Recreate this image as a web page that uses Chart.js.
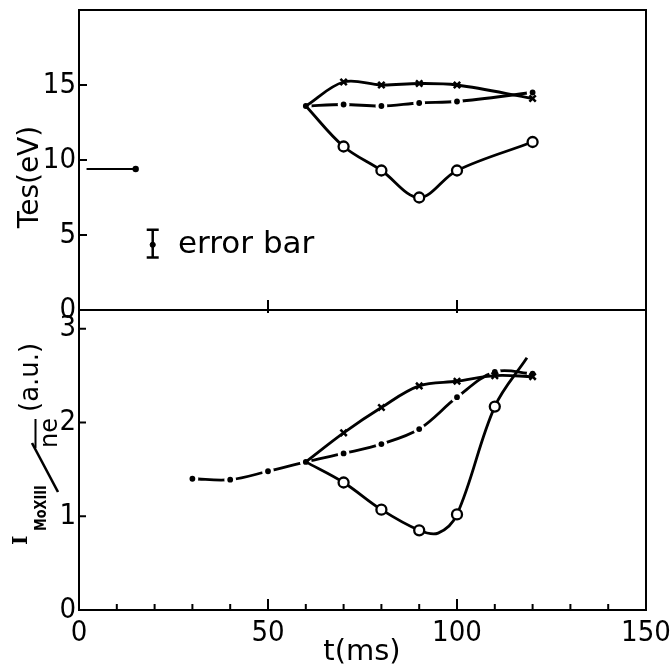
<!DOCTYPE html>
<html>
<head>
<meta charset="utf-8">
<script src="https://cdn.jsdelivr.net/npm/chart.js@4.4.1/dist/chart.umd.min.js"></script>
<style>
  html, body { margin: 0; padding: 0; background: #fff; }
  #wrap { position: relative; width: 671px; height: 665px; }
  #wrap canvas { position: absolute; left: 0; top: 0; }
</style>
</head>
<body>
<div id="wrap">
  <canvas id="tesChart" width="671" height="665"></canvas>
  <canvas id="moChart" width="671" height="665"></canvas>
</div>
<script>
// Time axis (ms)
const timeTicks = [0, 50, 100, 150];
const timeMinor = [10, 20, 30, 40, 60, 70, 80, 90, 110, 120, 130, 140];

// Upper panel: T_es (eV)
const tesTicks = [0, 5, 10, 15];
const tesCrossT = [60, 70, 80, 90, 100, 120];
const tesCross = [13.6, 15.2, 15.0, 15.1, 15.0, 14.1];
const tesDotT = [60, 70, 80, 90, 100, 120];
const tesDot = [13.6, 13.7, 13.6, 13.8, 13.9, 14.5];
const tesRingT = [60, 70, 80, 90, 100, 120];
const tesRing = [13.6, 10.9, 9.3, 7.5, 9.3, 11.2];
const tesBeforeT = [2, 15];
const tesBefore = [9.4, 9.4];
const errBarT = [19.5, 19.5, 19.5];
const errBar = [3.5, 4.35, 5.35];

// Lower panel: I(MoXIII) / ne (a.u.)
const moTicks = [0, 1, 2, 3];
const moCrossT = [60, 70, 80, 90, 100, 110, 120];
const moCross = [1.58, 1.89, 2.16, 2.39, 2.44, 2.50, 2.49];
const moDotT = [30, 40, 50, 60, 70, 80, 90, 100, 110, 120];
const moDot = [1.40, 1.39, 1.48, 1.58, 1.67, 1.77, 1.93, 2.27, 2.54, 2.52];
const moRingT = [60, 70, 80, 90, 95, 100, 110, 118.5];
const moRing = [1.58, 1.36, 1.07, 0.85, 0.82, 1.02, 2.17, 2.69];
const moRingMarked = [false, true, true, true, false, true, true, false];

const NUM_FONT = "'Liberation Sans Narrow', 'DejaVu Sans Condensed', 'Liberation Sans', sans-serif";
const TXT_FONT = "'DejaVu Sans', sans-serif";

function pts(xs, ys) {
    return xs.map((x, i) => ({ x: x, y: ys[i] }));
}

// Series styles
function crossSet(xs, ys) {
    return {
        data: pts(xs, ys),
        borderColor: '#000', borderWidth: 2.8, tension: 0.35,
        pointStyle: 'crossRot', pointBorderColor: '#000', pointBorderWidth: 2.5,
        pointRadius: c => c.dataIndex === 0 ? 0 : 4.5
    };
}
function dotSet(xs, ys) {
    // white ring round each dot leaves a small gap in the line
    return {
        data: pts(xs, ys),
        borderColor: '#000', borderWidth: 2.8, tension: 0.35,
        pointStyle: 'circle', pointBackgroundColor: '#000', pointBorderColor: '#fff',
        pointBorderWidth: 3, pointRadius: 4.4
    };
}
function ringSet(xs, ys, marked) {
    return {
        data: pts(xs, ys),
        borderColor: '#000', borderWidth: 2.8, tension: 0.35,
        pointStyle: 'circle', pointBackgroundColor: '#fff', pointBorderColor: '#000',
        pointBorderWidth: 2.3,
        pointRadius: c => (marked ? marked[c.dataIndex] : c.dataIndex > 0) ? 5 : 0
    };
}

function xScale(show) {
    return {
        type: 'linear', min: 0, max: 150, display: show,
        grid: { display: false, drawTicks: false },
        border: { display: false },
        afterBuildTicks: s => { s.ticks = timeTicks.map(v => ({ value: v })); },
        afterFit: s => {
            if (show) s.height = 55;
            s.paddingLeft = 0;
            s.paddingRight = 0;
        },
        ticks: { color: '#000', padding: 6, maxRotation: 0, font: { family: NUM_FONT, size: 29 } }
    };
}
function yScale(min, max, ticks) {
    return {
        type: 'linear', min: min, max: max,
        grid: { display: false, drawTicks: false },
        border: { display: false },
        afterBuildTicks: s => { s.ticks = ticks.map(v => ({ value: v })); },
        afterFit: s => {
            s.width = 79;
            s.paddingTop = 0;
            s.paddingBottom = 0;
        },
        ticks: { color: '#000', padding: 3, font: { family: NUM_FONT, size: 29 } }
    };
}

// Frame box plus inward tick marks
function framePlugin(xMarks, yMarks) {
    return {
        id: 'frame',
        afterDraw(chart) {
            const { ctx, chartArea: a, scales } = chart;
            ctx.save();
            ctx.strokeStyle = '#000';
            ctx.lineWidth = 2;
            ctx.strokeRect(a.left, a.top, a.right - a.left, a.bottom - a.top);
            xMarks.forEach(([v, up, down]) => {
                const px = scales.x.getPixelForValue(v);
                ctx.beginPath();
                ctx.moveTo(px, a.bottom + down);
                ctx.lineTo(px, a.bottom - up);
                ctx.stroke();
            });
            yMarks.forEach(([v, len]) => {
                const py = scales.y.getPixelForValue(v);
                ctx.beginPath();
                ctx.moveTo(a.left, py);
                ctx.lineTo(a.left + len, py);
                ctx.stroke();
            });
            ctx.restore();
        }
    };
}

const commonOptions = {
    responsive: false,
    animation: false,
    events: [],
    plugins: { legend: { display: false }, tooltip: { enabled: false } }
};

// Upper chart
new Chart(document.getElementById('tesChart'), {
    type: 'line',
    data: {
        datasets: [
            crossSet(tesCrossT, tesCross),
            ringSet(tesRingT, tesRing, null),
            dotSet(tesDotT, tesDot),
            {
                data: pts(tesBeforeT, tesBefore),
                borderColor: '#000', borderWidth: 2, tension: 0,
                pointBackgroundColor: '#000', pointBorderColor: '#000',
                pointRadius: [0, 2.2]
            },
            {
                data: pts(errBarT, errBar),
                borderColor: '#000', borderWidth: 2.5, tension: 0,
                pointStyle: ['line', 'circle', 'line'],
                pointBackgroundColor: '#000', pointBorderColor: '#000',
                pointBorderWidth: [2.5, 1, 2.5], pointRadius: [6, 2.6, 6]
            }
        ]
    },
    options: Object.assign({}, commonOptions, {
        layout: { padding: { left: 0, right: 25, top: 10, bottom: 355 } },
        scales: { x: xScale(false), y: yScale(0, 20, tesTicks) }
    }),
    plugins: [
        framePlugin([[50, 10, 3], [100, 10, 3]], [[5, 8], [10, 8], [15, 8]]),
        {
            id: 'tesText',
            afterDraw(chart) {
                const ctx = chart.ctx;
                ctx.save();
                ctx.fillStyle = '#000';
                ctx.font = '31px ' + TXT_FONT;
                ctx.textAlign = 'left';
                ctx.textBaseline = 'alphabetic';
                ctx.fillText('error bar', 178, 253);
                ctx.translate(38, 177);
                ctx.rotate(-Math.PI / 2);
                ctx.textAlign = 'center';
                ctx.font = '28px ' + TXT_FONT;
                ctx.fillText('Tes(eV)', 0, 0);
                ctx.restore();
            }
        }
    ]
});

// Lower chart
new Chart(document.getElementById('moChart'), {
    type: 'line',
    data: {
        datasets: [
            crossSet(moCrossT, moCross),
            ringSet(moRingT, moRing, moRingMarked),
            dotSet(moDotT, moDot)
        ]
    },
    options: Object.assign({}, commonOptions, {
        layout: { padding: { left: 0, right: 25, top: 310, bottom: 0 } },
        scales: { x: xScale(true), y: yScale(0, 3.2, moTicks) }
    }),
    plugins: [
        framePlugin(
            timeMinor.map(v => [v, 6, 0]).concat([[50, 11, 0], [100, 11, 0]]),
            [[1, 7], [2, 7], [3, 7]]
        ),
        {
            id: 'moText',
            afterDraw(chart) {
                const ctx = chart.ctx;
                ctx.save();
                ctx.fillStyle = '#000';
                ctx.strokeStyle = '#000';
                ctx.textBaseline = 'alphabetic';
                ctx.textAlign = 'center';
                ctx.font = '29px ' + TXT_FONT;
                ctx.fillText('t(ms)', 362, 660);

                // rotated y title: I_MoXIII / n̄e (a.u.)
                ctx.translate(38, 545);
                ctx.rotate(-Math.PI / 2);
                ctx.textAlign = 'left';
                ctx.font = "bold 20px 'DejaVu Serif', serif";
                ctx.fillText('I', 0, -11);
                ctx.save();
                ctx.scale(0.8, 1);
                ctx.font = 'bold 16px ' + TXT_FONT;
                ctx.fillText('MoXIII', 14 / 0.8, 8);
                ctx.restore();
                ctx.lineWidth = 2.6;
                ctx.beginPath();
                ctx.moveTo(53, 20);
                ctx.lineTo(102, -6);
                ctx.stroke();
                ctx.font = '24px ' + TXT_FONT;
                ctx.fillText('ne', 97, 19);
                ctx.lineWidth = 2;
                ctx.beginPath();
                ctx.moveTo(97, -2.5);
                ctx.lineTo(126, -2.5);
                ctx.stroke();
                ctx.font = '26px ' + TXT_FONT;
                ctx.fillText('(a.u.)', 133, 0);
                ctx.restore();
            }
        }
    ]
});
</script>
</body>
</html>
